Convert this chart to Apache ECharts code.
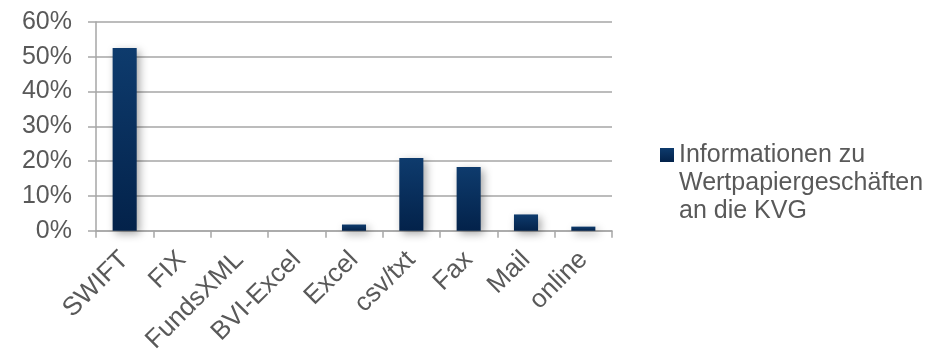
<!DOCTYPE html>
<html>
<head>
<meta charset="utf-8">
<script src="https://cdn.jsdelivr.net/npm/echarts@6/dist/echarts.min.js"></script>
<style>html,body{margin:0;padding:0;background:#fff;}#c{width:945px;height:356px;}</style>
</head>
<body>
<div id="c"></div>
<script>
var categories = ['SWIFT', 'FIX', 'FundsXML', 'BVI-Excel', 'Excel', 'csv/txt', 'Fax', 'Mail', 'online'];
var values = [52.5, 0, 0, 0, 1.8, 20.9, 18.3, 4.7, 1.2];
var seriesName = 'Informationen zu\nWertpapiergeschäften\nan die KVG';
var yTicks = { min: 0, max: 60, interval: 10 };

var gray = '#a6a6a6';
var textColor = '#595959';
var font = 'Liberation Sans, Arial, sans-serif';
var barColor = new echarts.graphic.LinearGradient(0, 0, 0, 1, [
  { offset: 0, color: '#0e3b6d' },
  { offset: 1, color: '#03224a' }
]);

var chart = echarts.init(document.getElementById('c'), null, { renderer: 'canvas' });
chart.setOption({
  animation: false,
  backgroundColor: '#fff',
  grid: { left: 96, right: 333, top: 22, bottom: 124, containLabel: false },
  legend: {
    show: true,
    orient: 'vertical',
    left: 655,
    top: 80,
    itemWidth: 14,
    itemHeight: 14,
    icon: 'rect',
    formatter: function (name) { return '\n\n' + name; },
    textStyle: {
      fontFamily: font,
      fontSize: 25,
      color: textColor,
      lineHeight: 28
    }
  },
  xAxis: {
    type: 'category',
    data: categories,
    axisLine: { lineStyle: { color: gray, width: 1.5 } },
    axisTick: { show: true, length: 7, alignWithLabel: false, lineStyle: { color: gray, width: 1.5 } },
    axisLabel: {
      rotate: 45,
      margin: 25,
      interval: 0,
      fontFamily: font,
      fontSize: 26,
      color: textColor
    }
  },
  yAxis: {
    type: 'value',
    min: yTicks.min,
    max: yTicks.max,
    interval: yTicks.interval,
    axisLine: { show: true, lineStyle: { color: gray, width: 1.5 } },
    axisTick: { show: true, length: 8, lineStyle: { color: gray, width: 1.5 } },
    splitLine: { show: true, lineStyle: { color: gray, width: 1.5 } },
    axisLabel: {
      formatter: '{value}%',
      margin: 24,
      fontFamily: font,
      fontSize: 25,
      color: textColor
    }
  },
  series: [{
    name: seriesName,
    type: 'bar',
    data: values,
    barWidth: '42%',
    itemStyle: {
      color: barColor,
      shadowColor: 'rgba(0,0,0,0.35)',
      shadowBlur: 8,
      shadowOffsetX: 3,
      shadowOffsetY: 3
    }
  }]
});
</script>
</body>
</html>
